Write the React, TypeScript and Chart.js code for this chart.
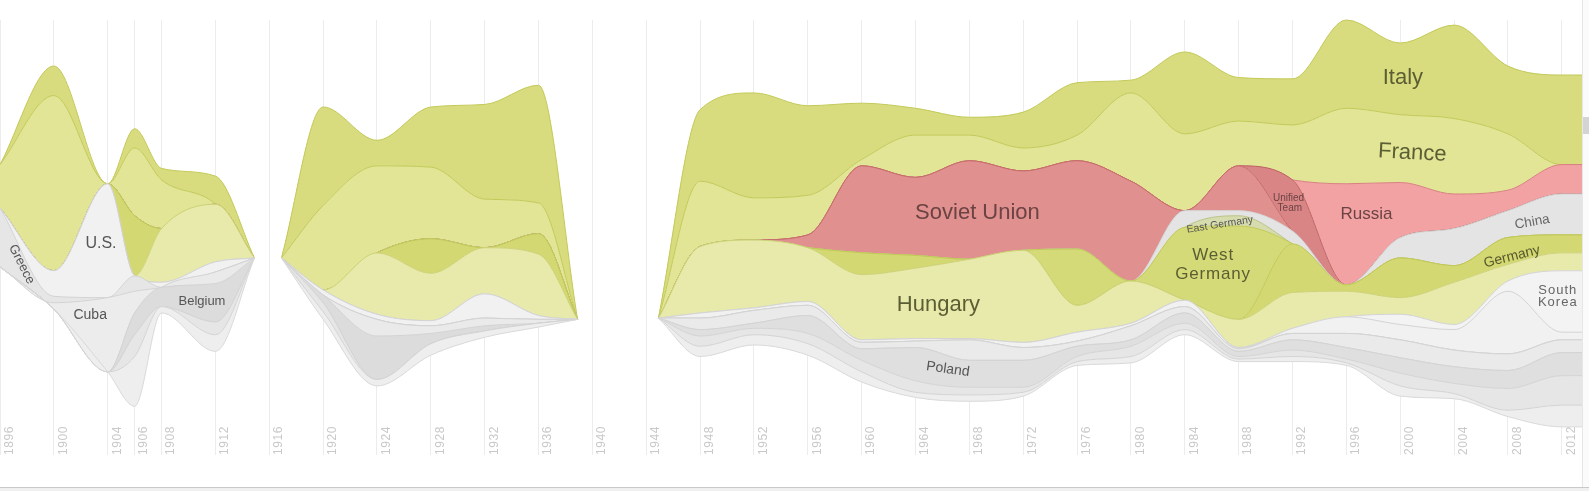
import React, { useEffect, useRef } from 'react';
import { Chart, registerables } from 'chart.js';

Chart.register(...registerables);

// x positions: Olympic years plus the points where each stream segment closes (value 0);
// 1916 and 1940 (no Games) break the stream.
const years = [1896, 1900, 1904, 1906, 1908, 1912, 1914.9, 1916, 1916.9, 1920, 1924, 1928, 1932, 1936, 1938.9, 1940, 1944.9,
  1948, 1952, 1956, 1960, 1964, 1968, 1972, 1976, 1980, 1984, 1988, 1992, 1996, 2000, 2004, 2008, 2012];

const tickYears = [1896, 1900, 1904, 1906, 1908, 1912, 1916, 1920, 1924, 1928, 1932, 1936, 1940, 1944, 1948, 1952, 1956,
  1960, 1964, 1968, 1972, 1976, 1980, 1984, 1988, 1992, 1996, 2000, 2004, 2008, 2012];
const tickLabels = ['1896', '1900', '1904', '1906', '1908', '1912', '1916', '1920', '1924', '1928', '1932', '1936', '1940',
  '1944', '1948', '1952', '1956', '1960', '1964', '1968', '1972', '1976', '1980', '1984', '1988', '1992', '1996', '2000',
  '2004', '2008', '2012'];

// bottom edge of the stream (medal units above the chart floor)
const baseline = [14.7, 11.4, 6.5, 3.8, 11.1, 8.1, 15.4, null, 15.4, 10.6, 5.4, 7.8, 9.2, 10.0, 10.6, null, 10.7,
  7.7, 8.6, 7.8, 5.7, 4.5, 4.2, 4.6, 7.0, 7.2, 9.4, 7.3, 7.3, 7.0, 4.6, 4.4, 3.0, 2.2];

// medals per layer (bottom to top of the stack)
const otherA = [0, 0, 0, 3.9, 0.5, 1.3, 0, 0, 0, 0.6, 0.5, 0.9, 0.5, 0.3, 0, 0, 0,
  0.8, 0.8, 0.9, 0.8, 0.4, 0.5, 0.3, 0.3, 0.5, 0.4, 0.2, 0.4, 0.2, 0.8, 0.4, 0.5, 1.7];
const otherB = [0, 0, 0, 1.7, 0, 1.0, 0, 0, 0, 0.7, 0, 0, 0, 0, 0, 0, 0,
  0.8, 0.5, 0.8, 0.9, 0.9, 0.6, 0.4, 0.4, 0.8, 0.5, 0.2, 0.5, 0.3, 1.0, 0.8, 1.7, 2.3];
const poland = [0, 0, 0, 0, 0, 0, 0, 0, 0, 0, 0, 0, 0, 0, 0, 0, 0,
  0.5, 0.4, 1.4, 0.9, 2.6, 2.1, 2.1, 0.8, 0.5, 0.8, 0.4, 0.8, 0.9, 1.2, 1.3, 1.4, 1.8];
const belgium = [0, 0, 0, 1.7, 1.5, 3.0, 0, 0, 0, 0.6, 3.4, 0.8, 0.4, 0, 0, 0, 0,
  0, 0, 0, 0, 0, 0, 0, 0, 0, 0, 0, 0, 0, 0, 0, 0, 0];
const otherC = [0, 0, 0, 0, 0, 0.9, 0, 0, 0, 0, 1.3, 0.6, 0.6, 0.3, 0, 0, 0,
  0.9, 1.0, 0.8, 0.5, 0.5, 1.6, 1.0, 0.4, 1.1, 0.5, 0.2, 0.5, 1.1, 1.4, 1.3, 1.3, 1.0];
const cuba = [0, 0.5, 5.8, 1.7, 0, 0, 0, 0, 0, 0, 0, 0, 0, 0, 0, 0, 0,
  0, 0, 0, 0, 0, 0, 0, 0, 0, 0, 0, 0, 0, 0, 0, 0, 0];
const greece = [4.6, 0.5, 0, 1.2, 0, 0, 0, 0, 0, 0, 0, 0, 0, 0, 0, 0, 0,
  0, 0, 0, 0, 0, 0, 0, 0, 0, 0, 0, 0, 0, 0, 0, 0, 0];
const unitedStates = [0, 2.0, 8.9, 0, 0.4, 0.8, 0, 0, 0, 0.4, 0.4, 0.4, 1.9, 0.3, 0, 0, 0,
  0.4, 0.2, 0.3, 0.2, 0.2, 0.1, 0.4, 0.7, 0.2, 0.5, 0.1, 0.4, 1.3, 1.2, 1.6, 4.9, 0.6];
const southKorea = [0, 0, 0, 0, 0, 0, 0, 0, 0, 0, 0, 0, 0, 0, 0, 0, 0,
  0, 0, 0, 0, 0, 0, 0, 0, 0, 0, 0, 0, 0, 0.8, 0.4, 0.8, 4.8];
const hungary = [0, 0, 0, 0, 4.2, 4.5, 0, 0, 0, 0, 4.8, 3.7, 3.6, 4.8, 0, 0, 0,
  5.2, 5.3, 4.2, 5.1, 5.5, 6.2, 7.2, 2.1, 3.3, 0, 2.2, 2.8, 2.0, 1.3, 3.3, 1.3, 1.4];
const germany = [0, 0, 0, 4.7, 0, 0, 0, 0, 0, 0, 0, 2.7, 0, 1.6, 0, 0, 0,
  0, 0, 0, 1.7, 1.0, 0, 0, 0, 0, 0, 0, 3.8, 0.5, 3.1, 1.3, 2.1, 1.4];
const westGermany = [0, 0, 0, 0, 0, 0, 0, 0, 0, 0, 0, 0, 0, 0, 0, 0, 0,
  0, 0, 0, 0, 0, 0, 0, 4.4, 0, 5.7, 7.3, 0, 0, 0, 0, 0, 0];
const eastGermany = [0, 0, 0, 0, 0, 0, 0, 0, 0, 0, 0, 0, 0, 0, 0, 0, 0,
  0, 0, 0, 0, 0, 0, 0, 0, 0, 0, 0.8, 0, 0, 0, 0, 0, 0];
const china = [0, 0, 0, 0, 0, 0, 0, 0, 0, 0, 0, 0, 0, 0, 0, 0, 0,
  0, 0, 0, 0, 0, 0, 0, 0, 0, 1.3, 0.4, 1.0, 0, 1.6, 2.9, 2.1, 3.2];
const sovietUnion = [0, 0, 0, 0, 0, 0, 0, 0, 0, 0, 0, 0, 0, 0, 0, 0, 0,
  0, 0, 1.0, 6.8, 6.1, 7.7, 6.2, 6.9, 7.8, 0, 3.5, 0, 0, 0, 0, 0, 0];
const unifiedTeam = [0, 0, 0, 0, 0, 0, 0, 0, 0, 0, 0, 0, 0, 0, 0, 0, 0,
  0, 0, 0, 0, 0, 0, 0, 0, 0, 0, 0, 4.0, 0, 0, 0, 0, 0];
const russia = [0, 0, 0, 0, 0, 0, 0, 0, 0, 0, 0, 0, 0, 0, 0, 0, 0,
  0, 0, 0, 0, 0, 0, 0, 0, 0, 0, 0, 0, 7.9, 4.3, 2.7, 1.6, 2.3];
const france = [3.4, 13.7, 0, 5.3, 3.8, 0, 0, 0, 0, 6.6, 6.8, 5.6, 3.8, 2.4, 0, 0, 0,
  5.1, 3.3, 3.1, 0.5, 3.3, 2.0, 1.8, 2.0, 6.9, 6.0, 3.5, 4.3, 5.9, 5.3, 5.9, 4.4, 0];
const italy = [0, 2.3, 0, 1.5, 0.9, 2.2, 0, 0, 0, 7.7, 2.0, 4.7, 7.4, 9.2, 0, 0, 0,
  5.6, 8.2, 7.0, 4.4, 2.1, 1.4, 2.8, 4.1, 1.0, 6.4, 3.4, 3.6, 6.9, 5.6, 7.3, 5.3, 7.0];

const X_MIN = 1896;
const X_MAX = 2013.5;

const GREEN_LINE = '#c2c958';
const GREY_LINE = '#d3d3d3';
const RED_LINE = '#c76c6c';

const layers = [
  { name: 'Other nations A', values: otherA, fill: '#eeeeee', line: GREY_LINE },
  { name: 'Other nations B', values: otherB, fill: '#e6e6e6', line: GREY_LINE },
  { name: 'Poland', values: poland, fill: '#dfdfdf', line: GREY_LINE },
  { name: 'Belgium', values: belgium, fill: '#dcdcdc', line: GREY_LINE },
  { name: 'Other nations C', values: otherC, fill: '#eaeaea', line: GREY_LINE },
  { name: 'Cuba', values: cuba, fill: '#ececec', line: GREY_LINE },
  { name: 'Greece', values: greece, fill: '#e6e6e6', line: GREY_LINE },
  { name: 'U.S.', values: unitedStates, fill: '#f1f1f1', line: GREY_LINE },
  { name: 'South Korea', values: southKorea, fill: '#f3f3f3', line: GREY_LINE },
  { name: 'Hungary', values: hungary, fill: '#e7eaab', line: '#cdd277' },
  { name: 'Germany', values: germany, fill: '#d3d872', line: GREEN_LINE },
  { name: 'West Germany', values: westGermany, fill: '#d5da78', line: GREEN_LINE },
  { name: 'East Germany', values: eastGermany, fill: '#d6dcae', line: '#b9c388' },
  { name: 'China', values: china, fill: '#e4e4e4', line: GREY_LINE },
  { name: 'Soviet Union', values: sovietUnion, fill: '#e0908f', line: RED_LINE },
  { name: 'Unified Team', values: unifiedTeam, fill: '#d98585', line: '#bd6262' },
  { name: 'Russia', values: russia, fill: '#f2a2a3', line: '#d88182' },
  { name: 'France', values: france, fill: '#e1e595', line: GREEN_LINE },
  { name: 'Italy', values: italy, fill: '#d8dc7e', line: GREEN_LINE },
];

const OLIVE = '#5b5e33';
const MAROON = '#6b4343';
const countryLabels = [
  { text: 'Greece', year: 1897.6, value: 14.9, size: 13, color: '#555', rotate: 63 },
  { text: 'U.S.', year: 1903.5, value: 16.5, size: 16, color: '#555' },
  { text: 'Cuba', year: 1902.7, value: 10.9, size: 14, color: '#555' },
  { text: 'Belgium', year: 1911.0, value: 12.0, size: 13, color: '#555' },
  { text: 'Soviet Union', year: 1968.6, value: 18.9, size: 22, color: MAROON },
  { text: 'Hungary', year: 1965.7, value: 11.7, size: 22, color: OLIVE },
  { text: 'Poland', year: 1966.4, value: 6.7, size: 14, color: '#555', rotate: 8 },
  { text: 'East Germany', year: 1986.6, value: 18.0, size: 10.5, color: '#555', rotate: -9 },
  { text: 'West', year: 1986.1, value: 15.6, size: 17, color: OLIVE, spacing: 0.8 },
  { text: 'Germany', year: 1986.1, value: 14.15, size: 17, color: OLIVE, spacing: 0.8 },
  { text: 'Unified', year: 1991.7, value: 20.1, size: 10, color: MAROON },
  { text: 'Team', year: 1991.8, value: 19.3, size: 10, color: MAROON },
  { text: 'Russia', year: 1997.5, value: 18.8, size: 17, color: MAROON },
  { text: 'Italy', year: 2000.2, value: 29.5, size: 22, color: OLIVE },
  { text: 'France', year: 2000.9, value: 23.6, size: 22, color: OLIVE, rotate: 3 },
  { text: 'China', year: 2009.8, value: 18.2, size: 13.5, color: '#666', rotate: -10 },
  { text: 'Germany', year: 2008.3, value: 15.5, size: 14, color: '#55582c', rotate: -14 },
  { text: 'South', year: 2011.7, value: 12.9, size: 13, color: '#666', spacing: 1 },
  { text: 'Korea', year: 2011.7, value: 11.9, size: 13, color: '#666', spacing: 1 },
];

const FONT = '"Liberation Sans", Arial, sans-serif';

const textPlugin = {
  id: 'streamText',
  afterDatasetsDraw(chart: any) {
    const ctx = chart.ctx;
    const xs = chart.scales.x;
    const ys = chart.scales.y;
    const area = chart.chartArea;
    // year labels, rotated, just right of each grid line
    ctx.save();
    ctx.fillStyle = '#c9c9c9';
    ctx.font = `12px ${FONT}`;
    (ctx as any).letterSpacing = '0.6px';
    tickYears.forEach((yr, i) => {
      const px = xs.getPixelForValue(yr);
      ctx.save();
      ctx.translate(px + 3.5, area.bottom);
      ctx.rotate(-Math.PI / 2);
      ctx.textAlign = 'left';
      ctx.textBaseline = 'top';
      ctx.fillText(tickLabels[i], 0, 0);
      ctx.restore();
    });
    ctx.restore();
    // country labels
    countryLabels.forEach((l: any) => {
      ctx.save();
      ctx.translate(xs.getPixelForValue(l.year), ys.getPixelForValue(l.value));
      if (l.rotate) ctx.rotate((l.rotate * Math.PI) / 180);
      ctx.font = `${l.size}px ${FONT}`;
      (ctx as any).letterSpacing = `${l.spacing || 0}px`;
      ctx.fillStyle = l.color;
      ctx.textAlign = 'center';
      ctx.textBaseline = 'middle';
      ctx.fillText(l.text, 0, 0);
      ctx.restore();
    });
  },
};

export default function App() {
  const ref = useRef<HTMLCanvasElement>(null);

  useEffect(() => {
    const canvas = ref.current;
    if (!canvas) return;
    const toPoints = (vals: (number | null)[]) => {
      const pts = years.map((x, i) => ({ x, y: vals[i] }));
      pts.push({ x: X_MAX, y: vals[vals.length - 1] });
      return pts;
    };
    const datasets: any[] = [
      {
        label: 'baseline',
        data: toPoints(baseline),
        borderColor: '#d9d9d9',
        borderWidth: 1,
        backgroundColor: 'transparent',
        fill: false,
        pointRadius: 0,
        spanGaps: false,
        clip: false,
      },
    ];
    let running: (number | null)[] = baseline.slice();
    layers.forEach((layer) => {
      running = running.map((r, i) => (r === null ? null : r + layer.values[i]));
      datasets.push({
        label: layer.name,
        data: toPoints(running),
        borderColor: layer.line,
        borderWidth: 1,
        backgroundColor: layer.fill,
        fill: '-1',
        pointRadius: 0,
        spanGaps: false,
        clip: false,
      });
    });

    const chart = new Chart(canvas, {
      type: 'line',
      data: { datasets },
      options: {
        animation: false,
        responsive: false,
        events: [],
        layout: { padding: { top: 20, bottom: 36, left: 0, right: 7 } },
        plugins: { legend: { display: false }, tooltip: { enabled: false } },
        elements: {
          point: { radius: 0 },
          line: { cubicInterpolationMode: 'monotone', borderJoinStyle: 'round' },
        },
        scales: {
          x: {
            type: 'linear',
            min: X_MIN,
            max: X_MAX,
            afterBuildTicks: (scale: any) => {
              scale.ticks = tickYears.map((v) => ({ value: v }));
            },
            ticks: { display: false },
            grid: { color: '#ececec', lineWidth: 1, drawTicks: false },
            border: { display: false },
          },
          y: { min: 0, max: 34, display: false },
        },
      } as any,
      plugins: [textPlugin],
    });
    return () => chart.destroy();
  }, []);

  return (
    <div style={{ position: 'fixed', left: 0, top: 0, width: 1589, height: 491, background: '#fff', overflow: 'hidden' }}>
      <canvas ref={ref} width={1589} height={491} style={{ display: 'block', width: 1589, height: 491 }} />
      <div style={{ position: 'absolute', left: 1582, top: 0, width: 7, height: 487, background: '#fbfbfb', borderLeft: '1px solid #e6e6e6', boxSizing: 'border-box' }} />
      <div style={{ position: 'absolute', left: 1583, top: 117, width: 6, height: 17, background: '#d4d4d4' }} />
      <div style={{ position: 'absolute', left: 0, top: 487, width: 1589, height: 4, background: '#f0f0f0', borderTop: '1px solid #c9c9c9', boxSizing: 'border-box' }} />
    </div>
  );
}
